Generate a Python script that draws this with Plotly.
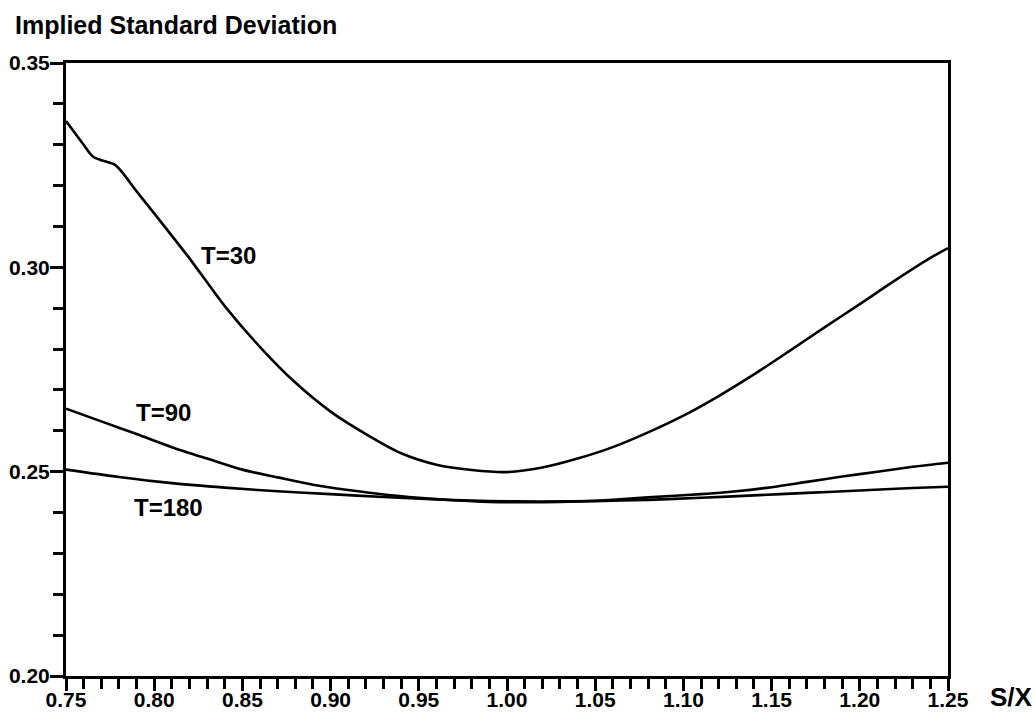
import plotly.graph_objects as go

# ---- data ----
sx_30 = [0.75, 0.76, 0.765, 0.77, 0.778, 0.79, 0.80, 0.82, 0.84, 0.86, 0.88, 0.90,
         0.92, 0.94, 0.96, 0.98, 1.00, 1.02, 1.04, 1.06, 1.08, 1.10, 1.12, 1.14, 1.16,
         1.18, 1.20, 1.22, 1.24, 1.25]
isd_30 = [0.3358, 0.3300, 0.3272, 0.3262, 0.3250, 0.3186, 0.3132, 0.3022, 0.2905, 0.2805,
          0.2718, 0.2647, 0.2592, 0.2545, 0.2517, 0.2504, 0.2499, 0.2510, 0.2532, 0.2560,
          0.2596, 0.2637, 0.2685, 0.2738, 0.2795, 0.2853, 0.2910, 0.2968, 0.3023, 0.3047]

sx_90 = [0.75, 0.77, 0.79, 0.81, 0.83, 0.85, 0.87, 0.89, 0.91, 0.93, 0.95, 0.97, 0.99,
         1.01, 1.03, 1.05, 1.07, 1.09, 1.11, 1.13, 1.15, 1.17, 1.19, 1.21, 1.23, 1.25]
isd_90 = [0.2654, 0.2623, 0.2592, 0.2560, 0.2532, 0.2505, 0.2486, 0.2468, 0.2455, 0.2444,
          0.2436, 0.2430, 0.2426, 0.2425, 0.2426, 0.2429, 0.2434, 0.2440, 0.2445, 0.2452,
          0.2462, 0.2475, 0.2488, 0.2500, 0.2512, 0.2522]

sx_180 = [0.75, 0.78, 0.81, 0.84, 0.87, 0.90, 0.93, 0.96, 0.99, 1.02, 1.05, 1.08, 1.11,
          1.14, 1.17, 1.20, 1.23, 1.25]
isd_180 = [0.2505, 0.2487, 0.2472, 0.2461, 0.2452, 0.2445, 0.2438, 0.2432, 0.2428, 0.2427,
           0.2428, 0.2431, 0.2436, 0.2442, 0.2448, 0.2454, 0.2460, 0.2463]

labels = ["T=30", "T=90", "T=180"]
label_x = [0.842, 0.805, 0.808]
label_y = [0.3029, 0.2645, 0.2412]

x_ticks = [0.75, 0.80, 0.85, 0.90, 0.95, 1.00, 1.05, 1.10, 1.15, 1.20, 1.25]
y_ticks = [0.20, 0.25, 0.30, 0.35]

FONT = "Liberation Sans, Arial, Helvetica, sans-serif"

fig = go.Figure()
for xs, ys in [(sx_30, isd_30), (sx_90, isd_90), (sx_180, isd_180)]:
    fig.add_trace(go.Scatter(x=xs, y=ys, mode="lines",
                             line=dict(color="black", width=2.6, shape="spline", smoothing=0.8),
                             showlegend=False, hoverinfo="skip"))

for t, lx, ly in zip(labels, label_x, label_y):
    fig.add_annotation(x=lx, y=ly, xref="x", yref="y", text=t, showarrow=False,
                       font=dict(family=FONT, size=24, color="black", weight="bold"))

fig.add_annotation(x=-0.060, y=1.062, xref="paper", yref="paper", xanchor="left",
                   yanchor="middle", text="Implied Standard Deviation", showarrow=False,
                   font=dict(family=FONT, size=25, color="black", weight="bold"))
fig.add_annotation(x=1.045, y=-0.034, xref="paper", yref="paper", xanchor="left",
                   yanchor="middle", text="S/X", showarrow=False,
                   font=dict(family=FONT, size=26, color="black", weight="bold"))

fig.update_xaxes(range=[0.75, 1.25], tickvals=x_ticks,
                 ticktext=[f"{v:.2f}" for v in x_ticks],
                 ticks="outside", ticklen=12, tickwidth=2.5, tickcolor="black",
                 minor=dict(dtick=0.01, tick0=0.75, ticks="outside", ticklen=10,
                            tickwidth=2.5, tickcolor="black", showgrid=False),
                 showline=True, linecolor="black", linewidth=3, mirror=True,
                 showgrid=False, zeroline=False, automargin=False,
                 ticklabelstandoff=-9,
                 tickfont=dict(family=FONT, size=21, color="black", weight="bold"))
fig.update_yaxes(range=[0.20, 0.35], tickvals=y_ticks,
                 ticktext=[f"{v:.2f}" for v in y_ticks],
                 ticks="outside", ticklen=13, tickwidth=2.5, tickcolor="black",
                 minor=dict(dtick=0.01, tick0=0.20, ticks="outside", ticklen=10,
                            tickwidth=2.5, tickcolor="black", showgrid=False),
                 showline=True, linecolor="black", linewidth=3, mirror=True,
                 showgrid=False, zeroline=False, automargin=False,
                 ticklabelstandoff=-4,
                 tickfont=dict(family=FONT, size=21, color="black", weight="bold"))

fig.update_layout(width=1035, height=718, autosize=False,
                  margin=dict(l=66, r=87, t=63, b=42, pad=0),
                  paper_bgcolor="white", plot_bgcolor="white")

fig.write_html("out.html")
